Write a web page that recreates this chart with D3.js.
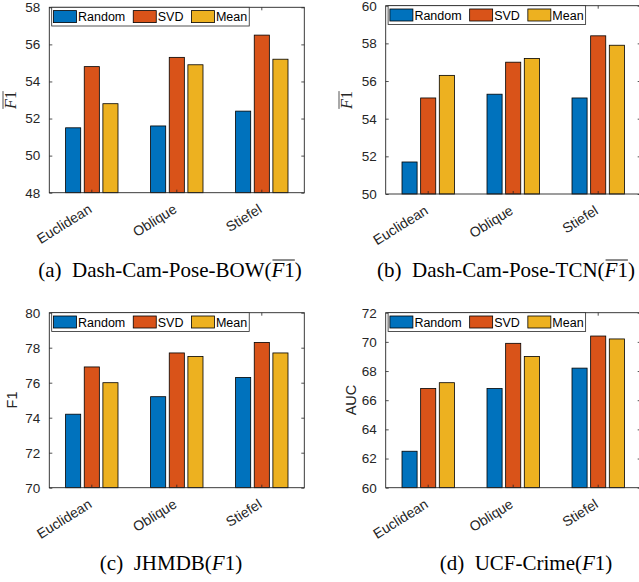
<!DOCTYPE html>
<html>
<head>
<meta charset="utf-8">
<script src="https://cdn.jsdelivr.net/npm/d3@7"></script>
<style>
  html, body { margin: 0; padding: 0; background: #fff; }
  svg { display: block; }
</style>
</head>
<body>
<svg id="chart" width="639" height="582"></svg>
<script>
// ---------------- data ----------------
const categories = ["Euclidean", "Oblique", "Stiefel"];
const seriesNames = ["Random", "SVD", "Mean"];

const bowRandom = [51.5, 51.6, 52.4];
const bowSVD    = [54.8, 55.3, 56.5];
const bowMean   = [52.8, 54.9, 55.2];
const bowTicks  = [48, 50, 52, 54, 56, 58];

const tcnRandom = [51.7, 55.3, 55.1];
const tcnSVD    = [55.1, 57.0, 58.4];
const tcnMean   = [56.3, 57.2, 57.9];
const tcnTicks  = [50, 52, 54, 56, 58, 60];

const jhmdbRandom = [74.2, 75.2, 76.3];
const jhmdbSVD    = [76.9, 77.7, 78.3];
const jhmdbMean   = [76.0, 77.5, 77.7];
const jhmdbTicks  = [70, 72, 74, 76, 78, 80];

const ucfRandom = [62.5, 66.8, 68.2];
const ucfSVD    = [66.8, 69.9, 70.4];
const ucfMean   = [67.2, 69.0, 70.2];
const ucfTicks  = [60, 62, 64, 66, 68, 70, 72];

// ---------------- style / layout ----------------
const colors = ["#0072BD", "#D95319", "#EDB120"];
const axisColor = "#262626";
const sans = "Helvetica, Arial, 'Liberation Sans', sans-serif";
const serif = "'Liberation Serif', 'Times New Roman', serif";

const panels = [
  { series: [bowRandom, bowSVD, bowMean], ticks: bowTicks,
    box: { l: 49.3, r: 304.3, t: 7.3, b: 192.7 },
    ylabel: { type: "over", x: 16, y: 100 },
    caption: { x: 170, y: 277, pre: "(a)\u2002Dash-Cam-Pose-BOW(", over: true } },
  { series: [tcnRandom, tcnSVD, tcnMean], ticks: tcnTicks,
    box: { l: 385.7, r: 640.7, t: 5.7, b: 194 },
    ylabel: { type: "over", x: 352, y: 100 },
    caption: { x: 506, y: 277, pre: "(b)\u2002Dash-Cam-Pose-TCN(", over: true } },
  { series: [jhmdbRandom, jhmdbSVD, jhmdbMean], ticks: jhmdbTicks,
    box: { l: 49.3, r: 304.3, t: 312.7, b: 487.7 },
    ylabel: { type: "text", text: "F1", x: 17, y: 400 },
    caption: { x: 171, y: 570, pre: "(c)\u2002JHMDB(", over: false } },
  { series: [ucfRandom, ucfSVD, ucfMean], ticks: ucfTicks,
    box: { l: 385.7, r: 640.7, t: 312.7, b: 487.7 },
    ylabel: { type: "text", text: "AUC", x: 356, y: 400 },
    caption: { x: 526, y: 570, pre: "(d)\u2002UCF-Crime(", over: false } }
];

const svg = d3.select("#chart");
const tickLen = 3;

panels.forEach(p => {
  const B = p.box;
  const g = svg.append("g");
  const x = d3.scaleBand().domain(categories).range([B.l, B.r]).padding(0);
  const y = d3.scaleLinear().domain(d3.extent(p.ticks)).range([B.b, B.t]);

  // bars
  categories.forEach((c, ci) => {
    const cx = x(c) + x.bandwidth() / 2;
    const xs = d3.scaleBand().domain(seriesNames)
      .range([cx - 26.2, cx + 26.2]).paddingInner(0.19).paddingOuter(0);
    seriesNames.forEach((s, si) => {
      const v = p.series[si][ci];
      g.append("rect")
        .attr("x", xs(s)).attr("width", xs.bandwidth())
        .attr("y", y(v)).attr("height", y(p.ticks[0]) - y(v))
        .attr("fill", colors[si]).attr("stroke", "#000").attr("stroke-width", 0.8);
    });
  });

  // y axis (left, ticks inward) and mirrored right
  const yl = g.append("g").attr("transform", `translate(${B.l},0)`)
    .call(d3.axisLeft(y).tickValues(p.ticks).tickSize(-tickLen).tickPadding(9).tickFormat(d3.format("d")));
  const yr = g.append("g").attr("transform", `translate(${B.r},0)`)
    .call(d3.axisRight(y).tickValues(p.ticks).tickSize(-tickLen).tickFormat(""));
  // x axis bottom with ticks inward, and top
  const xb = g.append("g").attr("transform", `translate(0,${B.b})`)
    .call(d3.axisBottom(x).tickSize(-tickLen).tickFormat(""));
  const xt = g.append("g").attr("transform", `translate(0,${B.t})`)
    .call(d3.axisTop(x).tickSize(-tickLen).tickFormat(""));
  [yl, yr, xb, xt].forEach(a => {
    a.select(".domain").remove();
    a.selectAll("line").attr("stroke", axisColor).attr("stroke-width", 0.8);
    a.selectAll("text").attr("fill", axisColor).style("font-family", sans).style("font-size", "13.5px");
  });
  // frame
  g.append("rect").attr("x", B.l).attr("y", B.t).attr("width", B.r - B.l).attr("height", B.b - B.t)
    .attr("fill", "none").attr("stroke", axisColor).attr("stroke-width", 0.9);

  // rotated category labels
  categories.forEach(c => {
    const cx = x(c) + x.bandwidth() / 2;
    g.append("text")
      .attr("transform", `translate(${cx + 1},${B.b + 19}) rotate(-32)`)
      .attr("text-anchor", "end")
      .attr("fill", axisColor)
      .style("font-family", sans).style("font-size", "14px")
      .text(c);
  });

  // legend
  const lg = g.append("g");
  const lx = B.l + 2.4, ly = B.t;
  const lgBox = lg.append("rect").attr("x", lx).attr("y", ly).attr("height", 18.7)
    .attr("fill", "#fff").attr("stroke", axisColor).attr("stroke-width", 0.8);
  let cur = lx + 1.8;
  seriesNames.forEach((s, si) => {
    lg.append("rect").attr("x", cur).attr("y", ly + 3.3).attr("width", 23).attr("height", 12)
      .attr("fill", colors[si]).attr("stroke", "#000").attr("stroke-width", 0.8);
    const t = lg.append("text").attr("x", cur + 24.5).attr("y", ly + 13.8)
      .attr("fill", "#000").style("font-family", sans).style("font-size", "12.5px").text(s);
    cur = cur + 24.5 + t.node().getComputedTextLength() + 8;
  });
  lgBox.attr("width", cur - lx - 6);

  // y label
  if (p.ylabel.type === "text") {
    g.append("text").attr("transform", `translate(${p.ylabel.x},${p.ylabel.y}) rotate(-90)`)
      .attr("text-anchor", "middle").attr("fill", axisColor)
      .style("font-family", sans).style("font-size", "14.5px").text(p.ylabel.text);
  } else {
    const yt = g.append("text").attr("transform", `translate(${p.ylabel.x},${p.ylabel.y}) rotate(-90)`)
      .attr("text-anchor", "middle").attr("fill", axisColor)
      .style("font-family", serif).style("font-size", "16px");
    yt.append("tspan").style("font-style", "italic").text("F");
    yt.append("tspan").text("1");
    const w = yt.node().getComputedTextLength();
    g.append("line").attr("transform", `translate(${p.ylabel.x},${p.ylabel.y}) rotate(-90)`)
      .attr("x1", -w / 2).attr("x2", w / 2).attr("y1", -13).attr("y2", -13)
      .attr("stroke", axisColor).attr("stroke-width", 0.8);
  }

  // caption
  const cap = svg.append("text").attr("x", p.caption.x).attr("y", p.caption.y)
    .attr("text-anchor", "middle").attr("fill", "#000")
    .style("font-family", serif).style("font-size", "21px");
  cap.append("tspan").text(p.caption.pre);
  cap.append("tspan").style("font-style", "italic").text("F");
  cap.append("tspan").text("1");
  cap.append("tspan").text(")");
  if (p.caption.over) {
    const n = cap.node();
    const start = n.getStartPositionOfChar(p.caption.pre.length);
    const end = n.getEndPositionOfChar(p.caption.pre.length + 1);
    svg.append("line").attr("x1", start.x + 1).attr("x2", end.x)
      .attr("y1", p.caption.y - 17).attr("y2", p.caption.y - 17)
      .attr("stroke", "#000").attr("stroke-width", 0.9);
  }
});
</script>
</body>
</html>
